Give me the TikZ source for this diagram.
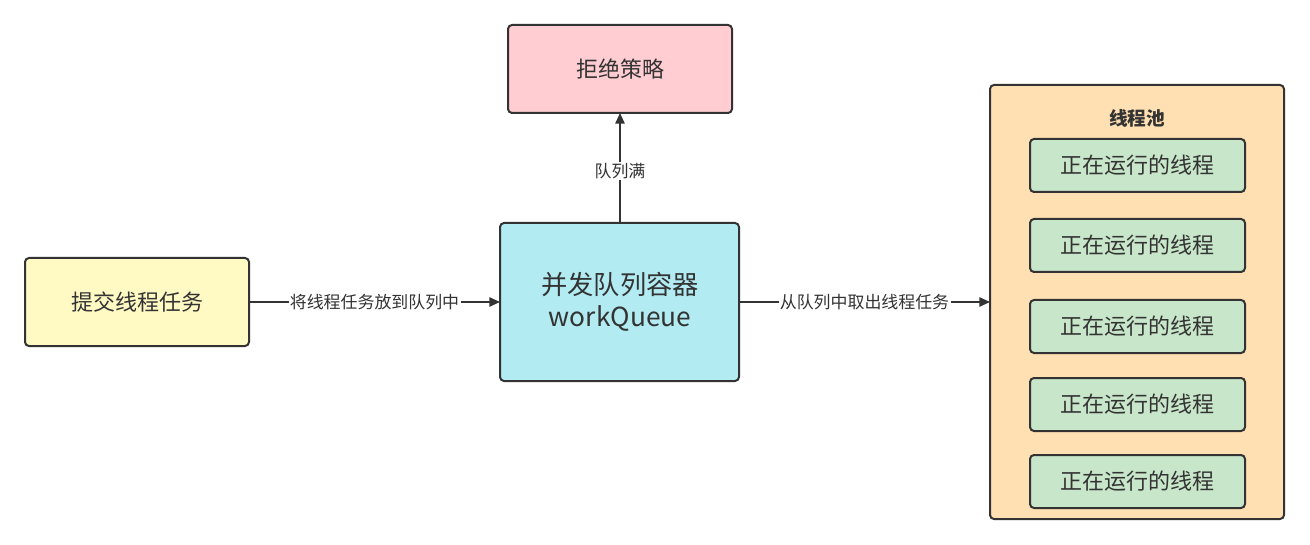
\documentclass[tikz,border=0pt]{standalone}
\usepackage{fontspec}
\setmainfont{Noto Sans CJK SC}
\usetikzlibrary{arrows.meta}
\definecolor{ink}{HTML}{333333}
\definecolor{cyellow}{HTML}{FFF9C4}
\definecolor{cpink}{HTML}{FFCDD2}
\definecolor{ccyan}{HTML}{B2EBF2}
\definecolor{corange}{HTML}{FFE0B2}
\definecolor{cgreen}{HTML}{C8E6C9}
\tikzset{
  box/.style={draw=ink, line width=1.5pt, rounded corners=3pt, text=ink},
  conn/.style={draw=ink, line width=1.3pt, -{Triangle[length=8pt,width=7pt]}},
  lbl/.style={fill=white, text=ink, font=\fontsize{12.7}{14}\selectfont, inner sep=1pt},
  boxtext/.style={text=ink, font=\fontsize{16.5}{19}\selectfont},
}
\begin{document}
\begin{tikzpicture}[x=0.75pt,y=-0.75pt]
\useasboundingbox (0,0) rectangle (1310,545);
\path[box, fill=cyellow] (25,258) rectangle (249,346);
\node[boxtext] (submit) at (137,302) {提交线程任务};
\coordinate (submitE) at (249,302);
\path[box, fill=cpink] (508,25) rectangle (732,113);
\node[boxtext] (reject) at (620,69) {拒绝策略};
\coordinate (rejectS) at (620,113);
\path[box, fill=ccyan] (500,223) rectangle (739,381);
\node[text=ink, font=\fontsize{19.7}{24}\selectfont, align=center] (queue) at (620,302) {并发队列容器\\workQueue};
\coordinate (queueW) at (500,302);
\coordinate (queueE) at (739,302);
\coordinate (queueN) at (620,223);
\path[box, fill=corange] (990,85) rectangle (1284,519);
\coordinate (poolW) at (990,302);
\node[text=ink, font=\fontsize{14}{17}\selectfont\bfseries] (pooltitle) at (1137,118) {线程池};
\foreach \y/\n in {165.5/t1,245.5/t2,326.5/t3,404.5/t4,481.5/t5}{
  \path[box, fill=cgreen] (1030,\y-26.5) rectangle (1245,\y+26.5);
  \node[boxtext] (\n) at (1137.5,\y) {正在运行的线程};
}
\draw[conn] (submitE) -- node[lbl] (l1) {将线程任务放到队列中} (queueW);
\draw[conn] (queueE) -- node[lbl] (l2) {从队列中取出线程任务} (poolW);
\draw[conn] (queueN) -- node[lbl, pos=0.47] (l3) {队列满} (rejectS);
\end{tikzpicture}
\end{document}
